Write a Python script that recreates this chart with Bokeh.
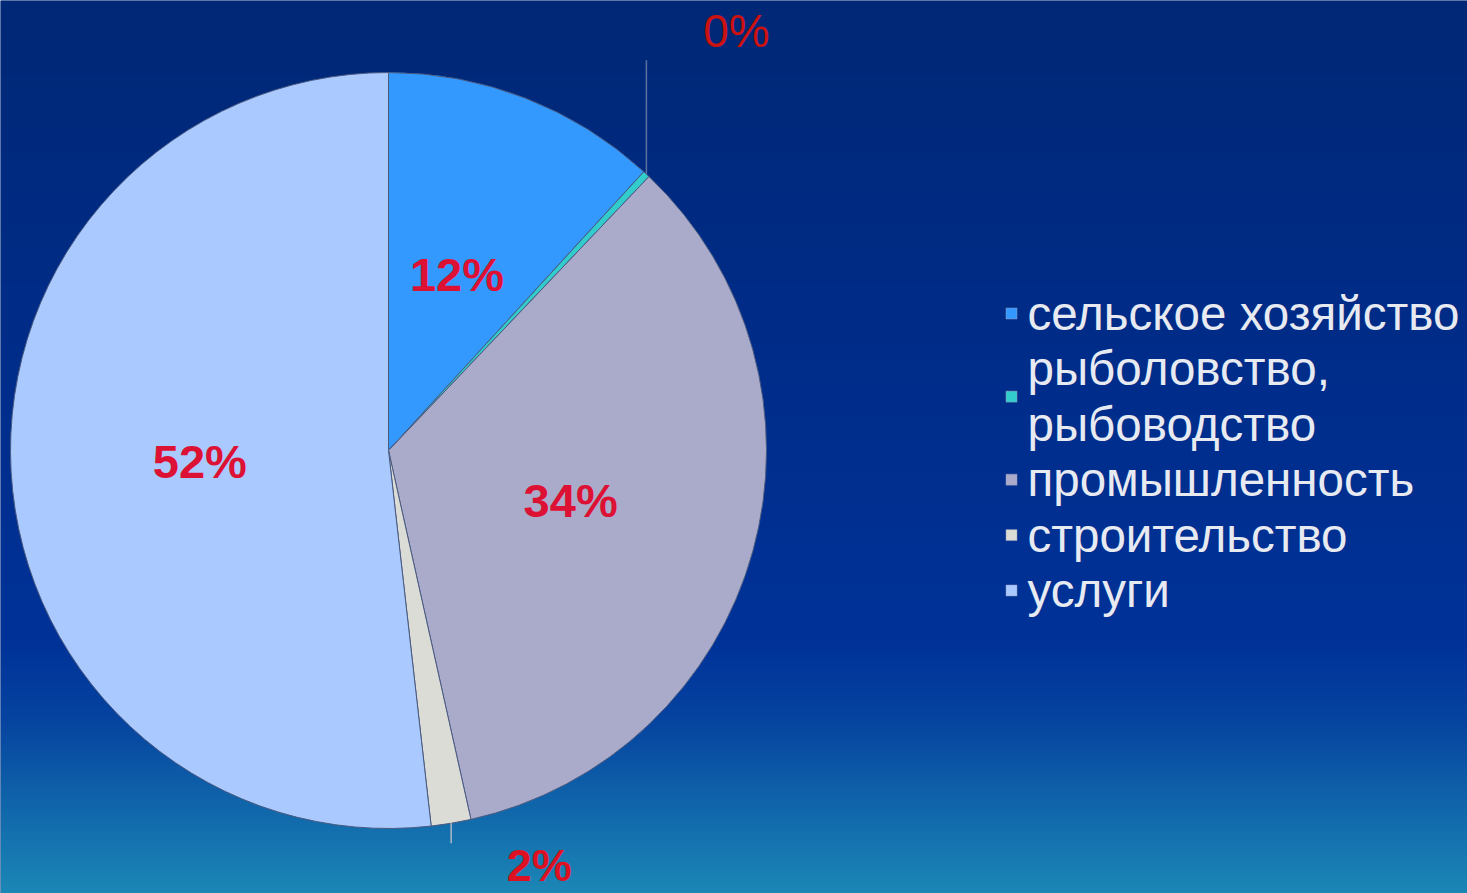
import numpy as np
from bokeh.plotting import figure
from bokeh.models import Range1d
from bokeh.core.properties import value
from bokeh.embed import file_html
from bokeh.resources import INLINE

# ---- data ----
categories = ["сельское хозяйство", "рыболовство,\nрыбоводство", "промышленность", "строительство", "услуги"]
shares = [11.8, 0.3, 34.4, 1.7, 51.8]
slice_colors = ["#3399ff", "#33cccc", "#aaabcb", "#dcdcd6", "#aac9ff"]

# ---- layout (reference pixel space: x right, y up) ----
W, H = 1467, 893
CX, CY, R = 388, 893 - 450, 378
FONT = "Liberation Sans"

p = figure(width=W, height=H, output_backend="svg", toolbar_location=None,
           x_range=Range1d(0, W), y_range=Range1d(0, H), min_border=0)
p.axis.visible = False
p.grid.visible = False
p.outline_line_color = None
p.background_fill_color = "#002878"
p.border_fill_color = "#002878"

# background gradient (style only)
stops_y = [0, 300, 640, 720, 800, 893]
stops_c = [(0, 40, 118), (0, 44, 135), (0, 50, 152), (6, 68, 160), (16, 100, 170), (28, 136, 182)]
img = np.zeros((H, 2), dtype=np.uint32)
view = img.view(dtype=np.uint8).reshape((H, 2, 4))
for i in range(H):
    yr = H - 1 - i  # distance from top
    for k in range(3):
        view[i, :, k] = int(np.interp(yr, stops_y, [s[k] for s in stops_c]))
    view[i, :, 3] = 255
p.image_rgba(image=[img], x=0, y=0, dw=W, dh=H)

# ---- pie ----
fr = np.array(shares) / sum(shares)
cum = np.concatenate([[0], np.cumsum(fr)])
start = np.pi / 2 - 2 * np.pi * cum[:-1]
end = np.pi / 2 - 2 * np.pi * cum[1:]
p.wedge(x=CX, y=CY, radius=R, start_angle=start, end_angle=end, direction="clock",
        fill_color=slice_colors, line_color="#4a5a80", line_width=1)

mid = np.pi / 2 - 2 * np.pi * (cum[:-1] + cum[1:]) / 2
labels = [f"{round(v)}%" for v in shares]

inside = [0, 2, 4]
p.text(x=[CX + 0.5 * R * np.cos(mid[i]) for i in inside],
       y=[CY + 0.5 * R * np.sin(mid[i]) for i in inside],
       text=[labels[i] for i in inside],
       text_font=value(FONT), text_font_size="47px", text_font_style="bold",
       text_color="#dd1133", text_align="center", text_baseline="middle")

# outside labels with leader lines
outside = {1: (114, 90, 143, "normal", "#cc1111", "#6070a0", "46px"),
           3: (-20, 88, -42, "bold", "#dd1122", "#b0b8c8", "45px")}
for i, (ly, dx, dy, style, col, lcol, fs) in outside.items():
    ax = CX + R * np.cos(mid[i])
    ay = CY + R * np.sin(mid[i])
    p.line(x=[ax, ax], y=[ay, ay + ly], line_color=lcol, line_width=1.5)
    p.text(x=[ax + dx], y=[ay + dy], text=[labels[i]],
           text_font=value(FONT), text_font_size=fs, text_font_style=style,
           text_color=col, text_align="center", text_baseline="middle")

# ---- legend ----
LX, LY0, LSTEP = 1027, 893 - 313, 55.4
line_idx = 0
mx, my, lx, ly, lt = [], [], [], [], []
for cat in categories:
    parts = cat.split("\n")
    ys = []
    for part in parts:
        yv = LY0 - line_idx * LSTEP
        lx.append(LX); ly.append(yv); lt.append(part); ys.append(yv)
        line_idx += 1
    mx.append(LX - 16)
    my.append(float(np.mean(ys)))
p.scatter(x=mx, y=my, marker="square", size=11, fill_color=slice_colors,
          line_color="#9098b8", line_width=0.5)
p.text(x=lx, y=ly, text=lt, text_font=value(FONT), text_font_size="47.5px",
       text_color="#e8eaf2", text_align="left", text_baseline="middle")

open("out.html", "w").write(file_html(p, INLINE))
